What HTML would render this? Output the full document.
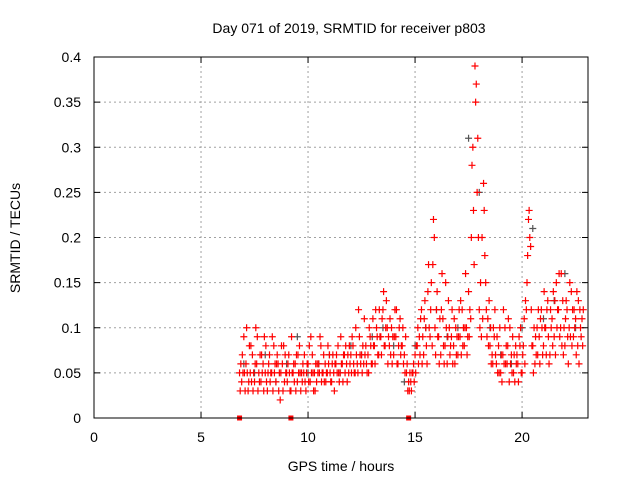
<!DOCTYPE html>
<html><head><meta charset="utf-8"><style>
body{margin:0;background:#fff}
svg{display:block;font-family:"Liberation Sans",sans-serif}
</style></head><body>
<svg id="chart" width="640" height="480" viewBox="0 0 640 480" xmlns="http://www.w3.org/2000/svg">
<rect width="640" height="480" fill="#fff"/>
<text x="349" y="33" font-size="14" text-anchor="middle">Day 071 of 2019, SRMTID for receiver p803</text>
<text x="341" y="471" font-size="14" text-anchor="middle">GPS time / hours</text>
<text transform="translate(20,238) rotate(-90)" font-size="14" text-anchor="middle">SRMTID / TECUs</text>
<g id="grid"></g><g id="marks"></g><g id="axes"></g>
</svg>
<script>
const xTicks=[0,5,10,15,20];
const yTicks=[0,0.05,0.1,0.15,0.2,0.25,0.3,0.35,0.4];
const yTickLabels=["0","0.05","0.1","0.15","0.2","0.25","0.3","0.35","0.4"];
const redTimes=[6.8,6.9,7.0,7.1,7.2,7.3,7.4,7.5,7.6,7.7,7.8,7.9,8.0,8.1,8.2,8.3,8.4,8.5,8.6,8.7,8.8,8.9,9.0,9.1,9.2,9.3,9.4,9.5,9.6,9.7,9.8,9.9,10.0,10.1,10.2,10.3,10.4,10.5,10.6,10.7,10.8,10.9,11.0,11.1,11.2,11.3,11.4,11.5,11.6,11.7,11.8,11.9,12.0,12.1,12.2,12.3,12.4,12.5,12.6,12.7,12.8,12.9,13.0,13.1,13.2,13.3,13.4,13.5,13.6,13.7,13.8,13.9,14.0,14.1,14.2,14.3,14.4,14.5,14.6,14.7,14.8,14.9,15.0,15.1,15.2,15.3,15.4,15.5,15.6,15.7,15.8,15.9,16.0,16.1,16.2,16.3,16.4,16.5,16.6,16.7,16.8,16.9,17.0,17.1,17.2,17.3,17.4,17.5,17.6,17.7,17.8,17.9,18.0,18.1,18.2,18.3,18.4,18.5,18.6,18.7,18.8,18.9,19.0,19.1,19.2,19.3,19.4,19.5,19.6,19.7,19.8,19.9,20.0,20.1,20.2,20.3,20.4,20.5,20.6,20.7,20.8,20.9,21.0,21.1,21.2,21.3,21.4,21.5,21.6,21.7,21.8,21.9,22.0,22.1,22.2,22.3,22.4,22.5,22.6,22.7,22.8];
const redA=[.05,.04,.09,.06,.03,.05,.07,.04,.06,.05,.04,.06,.05,.03,.07,.05,.08,.04,.06,.02,.06,.04,.05,.07,.03,.05,.06,.04,.08,.05,.05,.03,.06,.04,.07,.05,.04,.06,.08,.05,.06,.05,.07,.04,.05,.06,.08,.05,.06,.07,.06,.05,.07,.08,.05,.06,.09,.07,.06,.08,.07,.09,.06,.08,.1,.07,.09,.12,.08,.1,.08,.1,.07,.09,.06,.11,.08,.07,.05,.04,.04,.05,.07,.08,.09,.12,.07,.1,.14,.09,.08,.2,.12,.09,.07,.11,.08,.06,.1,.09,.08,.1,.07,.09,.12,.08,.1,.14,.11,.3,.39,.25,.12,.09,.26,.15,.11,.08,.07,.09,.06,.08,.05,.07,.1,.06,.04,.07,.05,.08,.06,.08,.05,.11,.12,.22,.19,.08,.06,.1,.09,.12,.08,.1,.13,.07,.11,.09,.15,.12,.1,.13,.08,.12,.1,.14,.09,.11,.08,.12,.11];
const redB=[.03,.07,.05,.1,.04,.08,.03,.06,.09,.04,.07,.03,.08,.05,.04,.09,.05,.06,.03,.05,.03,.07,.04,.05,.09,.06,.03,.07,.05,.04,.07,.05,.04,.09,.05,.03,.06,.05,.04,.07,.04,.08,.05,.06,.03,.07,.05,.09,.04,.05,.04,.08,.05,.06,.1,.05,.07,.05,.11,.06,.05,.08,.11,.06,.09,.12,.07,.14,.1,.06,.11,.06,.09,.12,.08,.07,.1,.05,.06,.03,.03,.06,.05,.1,.07,.06,.11,.08,.17,.12,.17,.1,.14,.06,.12,.08,.15,.09,.07,.12,.11,.07,.09,.13,.08,.1,.07,.09,.2,.23,.35,.31,.1,.2,.23,.12,.08,.1,.06,.12,.09,.05,.07,.12,.06,.08,.1,.05,.07,.06,.04,.1,.07,.06,.15,.23,.12,.05,.09,.07,.06,.1,.14,.07,.09,.12,.08,.13,.1,.16,.16,.07,.11,.09,.15,.08,.12,.07,.13,.1,.08];
const redC=[.06,.05,.03,.05,.08,.04,.05,.1,.03,.07,.05,.09,.04,.06,.05,.03,.06,.07,.05,.08,.08,.05,.06,.03,.05,.04,.07,.05,.03,.06,.04,.06,.08,.05,.03,.06,.05,.09,.05,.04,.05,.06,.04,.07,.06,.05,.04,.06,.07,.08,.07,.06,.09,.05,.07,.12,.06,.08,.07,.05,.1,.06,.08,.12,.07,.09,.11,.08,.13,.09,.07,.09,.12,.06,.1,.08,.06,.09,.03,.05,.05,.04,.08,.06,.11,.09,.13,.06,.1,.15,.22,.07,.09,.11,.16,.06,.1,.13,.08,.06,.06,.09,.12,.07,.1,.16,.09,.12,.28,.17,.37,.2,.15,.11,.18,.09,.13,.06,.1,.07,.05,.1,.04,.06,.08,.11,.06,.09,.04,.07,.09,.05,.08,.13,.18,.2,.08,.1,.07,.12,.11,.07,.1,.12,.06,.1,.14,.07,.12,.09,.08,.1,.13,.06,.09,.12,.1,.14,.06,.09,.12];
const grayTimes=[7,7.5,8,8.5,9,9.5,10,10.5,11,11.5,12,12.5,13,13.5,14,14.5,15,15.5,16,16.5,17,17.5,18,18.5,19,19.5,20,20.5,21,21.5,22,22.5];
const grayVals=[.06,.05,.07,.04,.06,.09,.05,.06,.07,.05,.08,.07,.09,.1,.08,.04,.08,.1,.12,.09,.1,.31,.25,.1,.07,.06,.1,.21,.11,.13,.16,.1];
const gapTimes=[6.8,9.2,14.7];

const X0=94,X1=588,Y0=418,Y1=57,XMAX=23.08,YMAX=0.4;
const sx=t=>X0+(t/XMAX)*(X1-X0);
const sy=v=>Y0-(v/YMAX)*(Y0-Y1);
const NS="http://www.w3.org/2000/svg";
function mk(tag,attrs,parent){const e=document.createElementNS(NS,tag);for(const k in attrs)e.setAttribute(k,attrs[k]);parent.appendChild(e);return e;}
const grid=document.getElementById('grid'),marks=document.getElementById('marks'),axes=document.getElementById('axes');
xTicks.forEach(t=>{
  const x=sx(t);
  if(t>0){const g=mk('line',{x1:x,y1:Y0,x2:x,y2:Y1,stroke:'#a0a0a0','stroke-dasharray':'2,3'},grid);
  
  }
  mk('line',{x1:x,y1:Y0,x2:x,y2:Y0-6,stroke:'#000'},axes);
  mk('line',{x1:x,y1:Y1,x2:x,y2:Y1+6,stroke:'#000'},axes);
  const l=mk('text',{x:x,y:Y0+24,'font-size':14,'text-anchor':'middle'},axes);l.textContent=t;
  
  
});
yTicks.forEach((v,i)=>{
  const y=sy(v);
  if(v>0&&v<YMAX){const g=mk('line',{x1:X0,y1:y,x2:X1,y2:y,stroke:'#a0a0a0','stroke-dasharray':'2,3'},grid);
  
  }
  mk('line',{x1:X0,y1:y,x2:X0+6,y2:y,stroke:'#000'},axes);
  mk('line',{x1:X1,y1:y,x2:X1-6,y2:y,stroke:'#000'},axes);
  const l=mk('text',{x:X0-13,y:y+5,'font-size':14,'text-anchor':'end'},axes);l.textContent=yTickLabels[i];
  
  
});
const frame=mk('rect',{x:X0,y:Y1,width:X1-X0,height:Y0-Y1,fill:'none',stroke:'#000'},axes);


function plus(t,v,col,name){
  const x=sx(t),y=sy(v);
  const p=mk('path',{d:`M${x-3.5},${y}h7M${x},${y-3.5}v7`,stroke:col,'stroke-width':1.2,fill:'none'},marks);
  
  
}
grayTimes.forEach((t,i)=>plus(t,grayVals[i],'#555','gray-point'));
[redA,redB,redC].forEach(s=>redTimes.forEach((t,i)=>plus(t+ (s===redB?0.03:s===redC?0.06:0),s[i],'#ff0000','red-point')));
gapTimes.forEach(t=>{
  const r=mk('rect',{x:sx(t)-2.5,y:Y0-2.5,width:5,height:5,fill:'#ff0000'},marks);
  
  
});
</script>
</body></html>
